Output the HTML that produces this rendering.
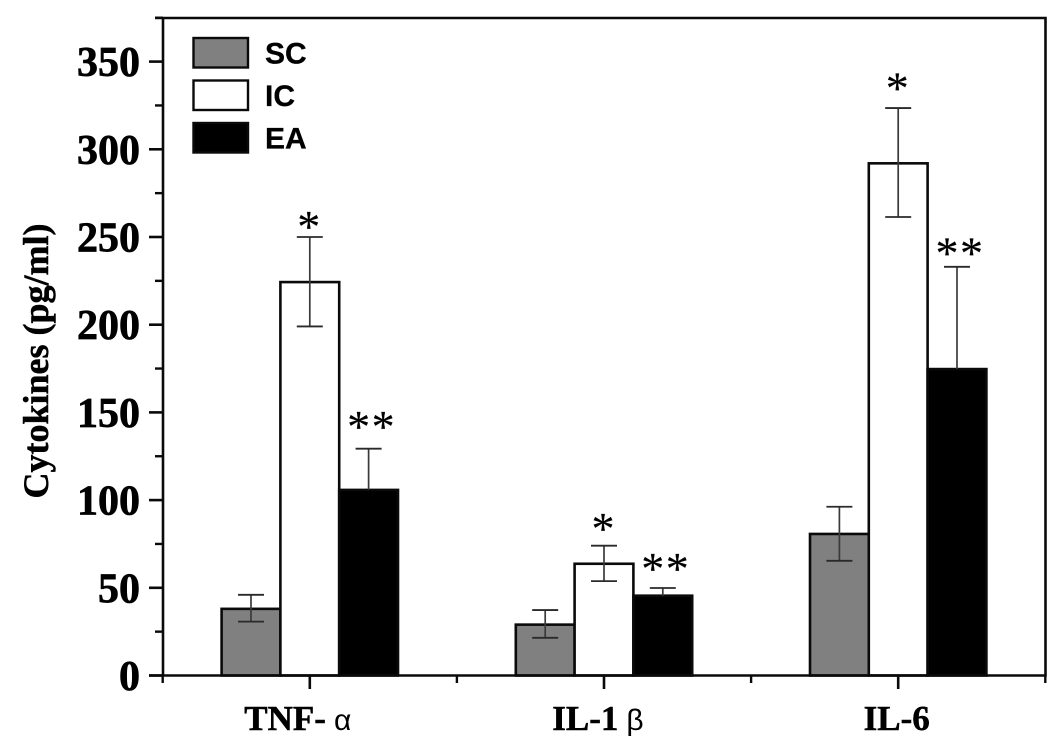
<!DOCTYPE html>
<html lang="en">
<head>
<meta charset="utf-8">
<title>Cytokines bar chart</title>
<style>
html,body{margin:0;padding:0;background:#fff;}
svg{display:block;}
</style>
</head>
<body>
<svg id="chart" xmlns="http://www.w3.org/2000/svg" width="1063" height="749" viewBox="0 0 1063 749"></svg>
<script>
const categories = ['TNF-', 'IL-1', 'IL-6'];
const categorySymbols = ['α', 'β', ''];
const seriesNames = ['SC', 'IC', 'EA'];
const seriesFill = ['#808080', '#ffffff', '#000000'];

const scValues = [38, 29, 80.7];
const icValues = [224.3, 63.7, 292];
const eaValues = [105.8, 45.5, 174.7];

const scErrHigh = [46, 37.3, 96.2];
const icErrHigh = [250, 74, 323.5];
const eaErrHigh = [129.3, 49.9, 233];

const scErrLow = [30.7, 21.5, 65.4];
const icErrLow = [199, 53.8, 261.4];
const eaErrLow = [null, null, null];

const starLabels = ['*', '**', '*', '**', '*', '**'];
const starCategory = [0, 0, 1, 1, 2, 2];
const starSeries = [1, 2, 1, 2, 1, 2];
const starValues = [259, 145, 87, 64, 338, 244];

const yTickLabels = [0, 50, 100, 150, 200, 250, 300, 350];
const yMinorTicks = [25, 75, 125, 175, 225, 275, 325, 375];
const xMinorTicks = [-0.5, 0.5, 1.5, 2.5];

const svg = document.getElementById('chart');
const NS = 'http://www.w3.org/2000/svg';

const plotLeft = 163, plotRight = 1045.5, plotTop = 18, plotBottom = 675.5;
const pxPerUnit = 1.754;
const catStart = 309.8, catStep = 294.2, barWidth = 58.8;
const SERIF = '"Liberation Serif", serif';
const SANS = '"Liberation Sans", sans-serif';

function yScale(v) { return plotBottom - v * pxPerUnit; }
function xScale(c) { return catStart + c * catStep; }
function barCenter(c, s) { return xScale(c) + (s - 1) * barWidth; }

function make(tag, attrs, parent) {
  const el = document.createElementNS(NS, tag);
  for (const k in attrs) el.setAttribute(k, attrs[k]);
  (parent || svg).appendChild(el);
  return el;
}

const seriesValues = [scValues, icValues, eaValues];
const seriesHigh = [scErrHigh, icErrHigh, eaErrHigh];
const seriesLow = [scErrLow, icErrLow, eaErrLow];

/* bars */
categories.forEach(function (cat, c) {
  seriesNames.forEach(function (name, s) {
    const top = yScale(seriesValues[s][c]);
    const bar = make('rect', {
      x: barCenter(c, s) - barWidth / 2, y: top,
      width: barWidth, height: plotBottom - top,
      fill: seriesFill[s], stroke: '#0a0a0a', 'stroke-width': 2.6
    });
    
    
  });
});

/* error bars */
categories.forEach(function (cat, c) {
  seriesNames.forEach(function (name, s) {
    const cx = barCenter(c, s);
    const hi = seriesHigh[s][c];
    const lo = seriesLow[s][c];
    const stemBottom = lo === null ? seriesValues[s][c] : lo;
    const stem = make('line', {
      x1: cx, x2: cx, y1: yScale(hi), y2: yScale(stemBottom),
      stroke: '#3a3a3a', 'stroke-width': 1.7
    });
    
    
    const capHigh = make('line', {
      x1: cx - 13, x2: cx + 13, y1: yScale(hi), y2: yScale(hi),
      stroke: '#2a2a2a', 'stroke-width': 1.8
    });
    
    
    if (lo !== null) {
      const capLow = make('line', {
        x1: cx - 13, x2: cx + 13, y1: yScale(lo), y2: yScale(lo),
        stroke: '#2a2a2a', 'stroke-width': 1.8
      });
      
      
    }
  });
});

/* significance stars */
starLabels.forEach(function (label, i) {
  const star = make('text', {
    x: barCenter(starCategory[i], starSeries[i]) + (label.length > 1 ? 3 : -1),
    y: yScale(starValues[i]) + 21,
    'text-anchor': 'middle',
    'font-family': SERIF,
    'font-size': 46,
    'letter-spacing': label.length > 1 ? 1.5 : 0,
    fill: '#000',
    stroke: '#000',
    'stroke-width': 0.2
  });
  star.textContent = label;
  
  
});

/* frame */
const frame = make('path', {
  d: 'M155 ' + plotTop + 'H' + plotRight + 'V' + plotBottom + 'H149M' + plotLeft + ' ' + plotTop + 'V' + plotBottom,
  fill: 'none', stroke: '#0a0a0a', 'stroke-width': 2.6
});



/* y axis */
yTickLabels.forEach(function (v) {
  const tick = make('line', {
    x1: 149, x2: plotLeft, y1: yScale(v), y2: yScale(v),
    stroke: '#0a0a0a', 'stroke-width': 2.6
  });
  
  
  const label = make('text', {
    x: 140, y: yScale(v) + 14.5,
    'text-anchor': 'end',
    'font-family': SERIF, 'font-weight': 'bold', 'font-size': 42,
    fill: '#000', stroke: '#000', 'stroke-width': 0.7
  });
  label.textContent = v;
  
  
});
yMinorTicks.forEach(function (v) {
  const tick = make('line', {
    x1: 155, x2: plotLeft, y1: yScale(v), y2: yScale(v),
    stroke: '#0a0a0a', 'stroke-width': 2.4
  });
  
  
});

/* x axis */
categories.forEach(function (cat, c) {
  const tick = make('line', {
    x1: xScale(c), x2: xScale(c), y1: plotBottom, y2: 689,
    stroke: '#0a0a0a', 'stroke-width': 2.6
  });
  
  
  const shift = categorySymbols[c] === 'α' ? -12 : (categorySymbols[c] === 'β' ? -6 : -1.5);
  const label = make('text', {
    x: xScale(c) + shift, y: 730,
    'text-anchor': 'middle',
    'font-family': SERIF, 'font-weight': 'bold', 'font-size': 35,
    fill: '#000', stroke: '#000', 'stroke-width': 0.5
  });
  
  
  const main = make('tspan', {}, label);
  main.textContent = cat;
  if (categorySymbols[c]) {
    const symbol = make('tspan', {
      dx: 8, 'font-family': SANS, 'font-weight': 'normal', 'font-size': 30, 'stroke-width': 0
    }, label);
    symbol.textContent = categorySymbols[c];
  }
});
xMinorTicks.forEach(function (c) {
  const tick = make('line', {
    x1: xScale(c), x2: xScale(c), y1: plotBottom, y2: 683,
    stroke: '#0a0a0a', 'stroke-width': 2.4
  });
  
  
});

/* y axis title */
const yTitle = make('text', {
  transform: 'translate(48 361) rotate(-90)',
  'text-anchor': 'middle',
  'font-family': SERIF, 'font-weight': 'bold', 'font-size': 36,
  fill: '#000', stroke: '#000', 'stroke-width': 0.5
});
yTitle.textContent = 'Cytokines (pg/ml)';



/* legend */
seriesNames.forEach(function (name, s) {
  const top = 38 + s * 42.5;
  const swatch = make('rect', {
    x: 193.5, y: top, width: 54.5, height: 29.5,
    fill: seriesFill[s], stroke: '#0a0a0a', 'stroke-width': 2.4
  });
  
  
  const text = make('text', {
    x: 265, y: top + 25.5,
    'font-family': SANS, 'font-weight': 'bold', 'font-size': 30,
    fill: '#000', stroke: '#000', 'stroke-width': 0.3
  });
  text.textContent = name;
  
  
});
</script>
</body>
</html>
